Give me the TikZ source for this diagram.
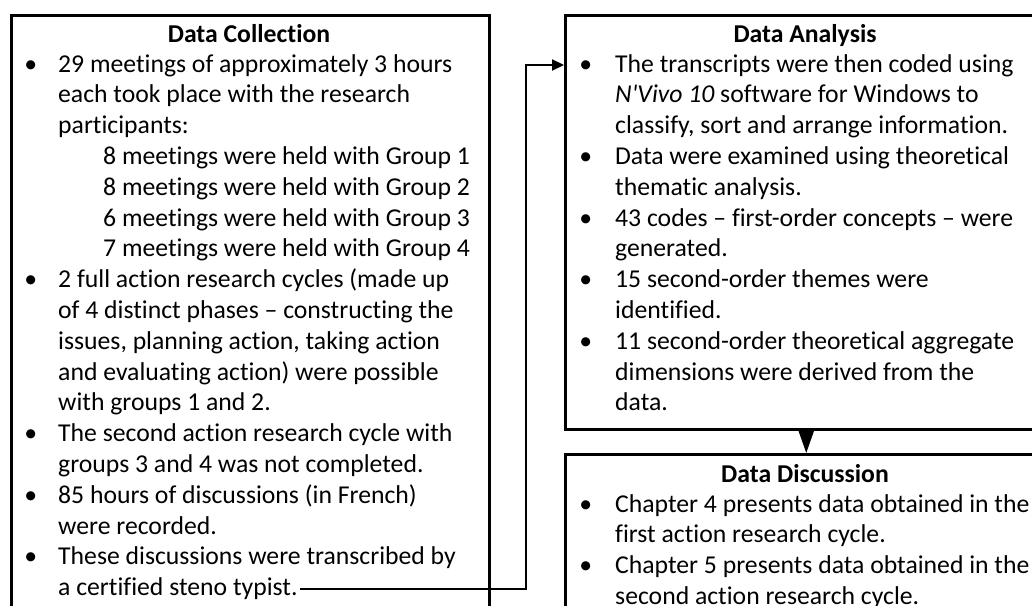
\documentclass[tikz,border=0pt]{standalone}
\usepackage{fontspec}
\newfontfamily\carl{Carlito}[Ligatures=NoCommon]
\usetikzlibrary{arrows.meta}
\newcommand\bl{\leavevmode\llap{\textbullet\hskip 21pt}}
\newcommand\br{\leavevmode\llap{\textbullet\hskip 23pt}}
\newcommand\ind{\leavevmode\hspace*{45pt}}
\newcommand\bodytext[1]{\parbox[t]{470pt}{\carl\fontsize{25.7pt}{30.8pt}\selectfont\raggedright #1\par}}
\tikzset{
  box/.style={draw, line width=2.5pt, inner sep=0pt, anchor=north west},
  title/.style={anchor=base, inner sep=0pt, font=\carl\fontsize{25.7pt}{30.8pt}\selectfont\bfseries},
  body/.style={anchor=base west, inner sep=0pt},
  conn/.style={line width=2.2pt}
}
\begin{document}
\begin{tikzpicture}[x=1pt,y=-1pt]
\useasboundingbox (0,0) rectangle (1032,605);
\clip (0,0) rectangle (1032,605);
\fill[white] (0,0) rectangle (1032,605);
% boxes
\node[box, minimum width=478pt, minimum height=620pt] (coll) at (10,14) {};
\node[box, minimum width=482pt, minimum height=414pt] (ana) at (564,14) {};
\node[box, minimum width=482pt, minimum height=200pt] (disc) at (564,453) {};
% titles
\node[title] (colltitle) at (249,42) {Data Collection};
\node[title] (anatitle) at (805,42) {Data Analysis};
\node[title] (disctitle) at (805,482) {Data Discussion};
% texts
\node[body] (colltext) at (58,72) {\bodytext{%
\bl 29 meetings of approximately 3 hours\\
each took place with the research\\
participants:\\
\ind 8 meetings were held with Group 1\\
\ind 8 meetings were held with Group 2\\
\ind 6 meetings were held with Group 3\\
\ind 7 meetings were held with Group 4\\
\bl 2 full action research cycles (made up\\
of 4 distinct phases – constructing the\\
issues, planning action, taking action\\
and evaluating action) were possible\\
with groups 1 and 2.\\
\bl The second action research cycle with\\
groups 3 and 4 was not completed.\\
\bl 85 hours of discussions (in French)\\
were recorded.\\
\bl These discussions were transcribed by\\
a certified steno typist.}};
\node[body] (anatext) at (615,72) {\bodytext{%
\br The transcripts were then coded using\\
\textit{N'Vivo 10} software for Windows to\\
classify, sort and arrange information.\\
\br Data were examined using theoretical\\
thematic analysis.\\
\br 43 codes – first-order concepts – were\\
generated.\\
\br 15 second-order themes were\\
identified.\\
\br 11 second-order theoretical aggregate\\
dimensions were derived from the\\
data.}};
\node[body] (disctext) at (615,512) {\bodytext{%
\br Chapter 4 presents data obtained in the\\
first action research cycle.\\
\br Chapter 5 presents data obtained in the\\
second action research cycle.}};
% connectors
\coordinate (start) at (300,589);
\coordinate (bend) at (526,589);
\coordinate (entry) at (564,65);
\draw[conn, -{Triangle[length=12pt,width=11pt]}] (start) -- (bend) |- (entry);
\draw[conn, -{Triangle[length=25pt,width=17pt]}] (ana.south) -- (disc.north);
\end{tikzpicture}
\end{document}
